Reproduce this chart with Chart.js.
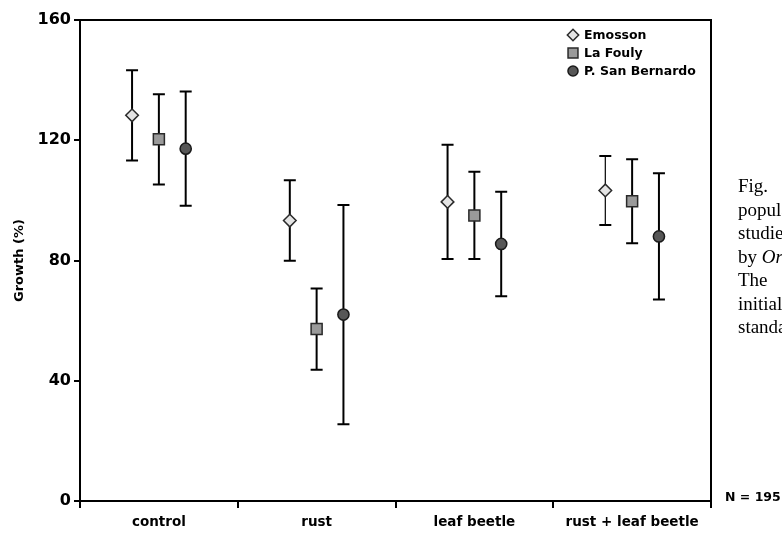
<!DOCTYPE html>
<html>
<head>
<meta charset="utf-8">
<script src="https://cdn.jsdelivr.net/npm/chart.js@4.4.1/dist/chart.umd.min.js"></script>
<style>
  html, body { margin: 0; padding: 0; background: #fff; overflow: hidden; }
  #wrap { position: relative; width: 782px; height: 538px; overflow: hidden; }
  #c { position: absolute; left: 0; top: 0; }
  #caption { position: absolute; left: 738px; top: 174px; font-family: 'Liberation Serif', serif; font-size: 19px; line-height: 23.5px; white-space: nowrap; color: #000; }
  #n { position: absolute; left: 725px; top: 489px; font-family: 'DejaVu Sans', sans-serif; font-weight: bold; font-size: 12.5px; line-height: 16px; white-space: nowrap; color: #000; }
</style>
</head>
<body>
<div id="wrap">
  <canvas id="c" width="782" height="538"></canvas>
  <div id="caption">
    <div>Fig.&emsp;&emsp;2&ensp;Growth of plants from three</div>
    <div>populations of <i>Adenostyles</i></div>
    <div>studied under attack by rust and</div>
    <div>by <i>Oreina</i> leaf beetles.</div>
    <div>The&emsp;&emsp;growth is relative to the</div>
    <div>initial size; bars give the</div>
    <div>standard deviation.</div>
  </div>
  <div id="n">N = 195</div>
</div>
<script>
// ---- data ----
const categories = ['control', 'rust', 'leaf beetle', 'rust + leaf beetle'];
const seriesNames = ['Emosson', 'La Fouly', 'P. San Bernardo'];
const emossonMean = [128.3, 93.3, 99.5, 103.3];
const emossonErr = [15, 13.4, 19, 11.5];
const laFoulyMean = [120.3, 57.2, 95, 99.7];
const laFoulyErr = [15, 13.5, 14.5, 14];
const sanBernardoMean = [117.2, 62, 85.5, 88];
const sanBernardoErr = [19, 36.5, 17.4, 21];
const yTicks = [0, 40, 80, 120, 160];

// ---- layout helpers ----
const groupOffset = [-0.17, 0, 0.17];
const means = [emossonMean, laFoulyMean, sanBernardoMean];
const errs = [emossonErr, laFoulyErr, sanBernardoErr];
const styles = [
  { pointStyle: 'rectRot', radius: 6.3, bg: '#e4e4e4', border: '#2a2a2a' },
  { pointStyle: 'rect', radius: 7.8, bg: '#9a9a9a', border: '#2a2a2a' },
  { pointStyle: 'circle', radius: 5.6, bg: '#575757', border: '#1a1a1a' }
];
const errWidths = [[2, 2, 2, 1.2], [2, 2, 2, 2], [2, 2, 2, 2]];

Chart.defaults.font.family = "'DejaVu Sans', sans-serif";
Chart.defaults.font.weight = 'bold';
Chart.defaults.color = '#000';

const datasets = seriesNames.map((name, s) => ({
  label: name,
  data: categories.map((c, i) => ({ x: i + groupOffset[s], y: means[s][i], err: errs[s][i] })),
  pointStyle: styles[s].pointStyle,
  pointRadius: styles[s].radius,
  pointHoverRadius: styles[s].radius,
  backgroundColor: styles[s].bg,
  borderColor: styles[s].border,
  borderWidth: 1.5,
  showLine: false,
  errWidths: errWidths[s]
}));

const errorBars = {
  id: 'errorBars',
  beforeDatasetsDraw(chart) {
    const ctx = chart.ctx;
    const xs = chart.scales.x, ys = chart.scales.y;
    ctx.save();
    ctx.strokeStyle = '#000';
    chart.data.datasets.forEach((ds, di) => {
      ds.data.forEach((p, i) => {
        const x = xs.getPixelForValue(p.x);
        const yt = ys.getPixelForValue(p.y + p.err);
        const yb = ys.getPixelForValue(p.y - p.err);
        ctx.lineWidth = ds.errWidths[i];
        ctx.beginPath();
        ctx.moveTo(x, yt); ctx.lineTo(x, yb);
        ctx.stroke();
        ctx.lineWidth = 2;
        ctx.beginPath();
        ctx.moveTo(x - 6, yt); ctx.lineTo(x + 6, yt);
        ctx.moveTo(x - 6, yb); ctx.lineTo(x + 6, yb);
        ctx.stroke();
      });
    });
    ctx.restore();
  }
};

const frameAndLegend = {
  id: 'frameAndLegend',
  afterDraw(chart) {
    const ctx = chart.ctx;
    const a = chart.chartArea;
    ctx.save();
    ctx.strokeStyle = '#000';
    ctx.lineWidth = 2;
    ctx.beginPath();
    ctx.moveTo(a.left, a.top);
    ctx.lineTo(a.right, a.top);
    ctx.lineTo(a.right, a.bottom);
    ctx.stroke();
    // legend
    const lx = a.right - 138, ly = a.top + 15;
    chart.data.datasets.forEach((ds, i) => {
      const y = ly + i * 18;
      ctx.fillStyle = ds.backgroundColor;
      ctx.strokeStyle = ds.borderColor;
      ctx.lineWidth = 1.5;
      Chart.helpers.drawPoint(ctx, {
        pointStyle: ds.pointStyle,
        radius: ds.pointRadius * 0.9,
        borderWidth: 1.5,
        rotation: 0
      }, lx, y);
      ctx.fillStyle = '#000';
      ctx.font = "bold 12.5px 'DejaVu Sans', sans-serif";
      ctx.textAlign = 'left';
      ctx.textBaseline = 'middle';
      ctx.fillText(ds.label, lx + 11, y + 0.5);
    });
    ctx.restore();
  }
};

new Chart(document.getElementById('c'), {
  type: 'scatter',
  data: { datasets },
  options: {
    responsive: false,
    animation: false,
    devicePixelRatio: 1,
    layout: { padding: { top: 20, right: 71, left: 0, bottom: 0 } },
    plugins: { legend: { display: false }, tooltip: { enabled: false } },
    scales: {
      x: {
        type: 'linear',
        min: -0.5,
        max: 3.5,
        afterBuildTicks(scale) {
          const t = [];
          for (let v = -0.5; v <= 3.5001; v += 0.5) t.push({ value: v });
          scale.ticks = t;
        },
        afterFit(scale) { scale.height = 37; },
        ticks: {
          autoSkip: false,
          maxRotation: 0,
          padding: 6,
          font: { size: 13.5, weight: 'bold' },
          color: '#000',
          callback: (v) => Number.isInteger(v) ? categories[v] : ''
        },
        grid: {
          drawOnChartArea: false,
          drawTicks: true,
          tickLength: 7,
          tickWidth: 2,
          lineWidth: 2,
          tickColor: (ctx) => (ctx.tick && Number.isInteger(ctx.tick.value)) ? 'rgba(0,0,0,0)' : '#000'
        },
        border: { display: true, color: '#000', width: 2 }
      },
      y: {
        min: 0,
        max: 160,
        afterBuildTicks(scale) { scale.ticks = yTicks.map(v => ({ value: v })); },
        afterFit(scale) { scale.width = 80; },
        ticks: {
          padding: 3,
          font: { size: 16, weight: 'bold' },
          color: '#000'
        },
        grid: {
          drawOnChartArea: false,
          drawTicks: true,
          tickLength: 6,
          tickWidth: 2,
          tickColor: '#000',
          lineWidth: 2
        },
        border: { display: true, color: '#000', width: 2 },
        title: {
          display: true,
          text: 'Growth (%)',
          font: { size: 13, weight: 'bold' },
          color: '#000',
          padding: { top: 12, bottom: 0 }
        }
      }
    }
  },
  plugins: [errorBars, frameAndLegend]
});
</script>
</body>
</html>
